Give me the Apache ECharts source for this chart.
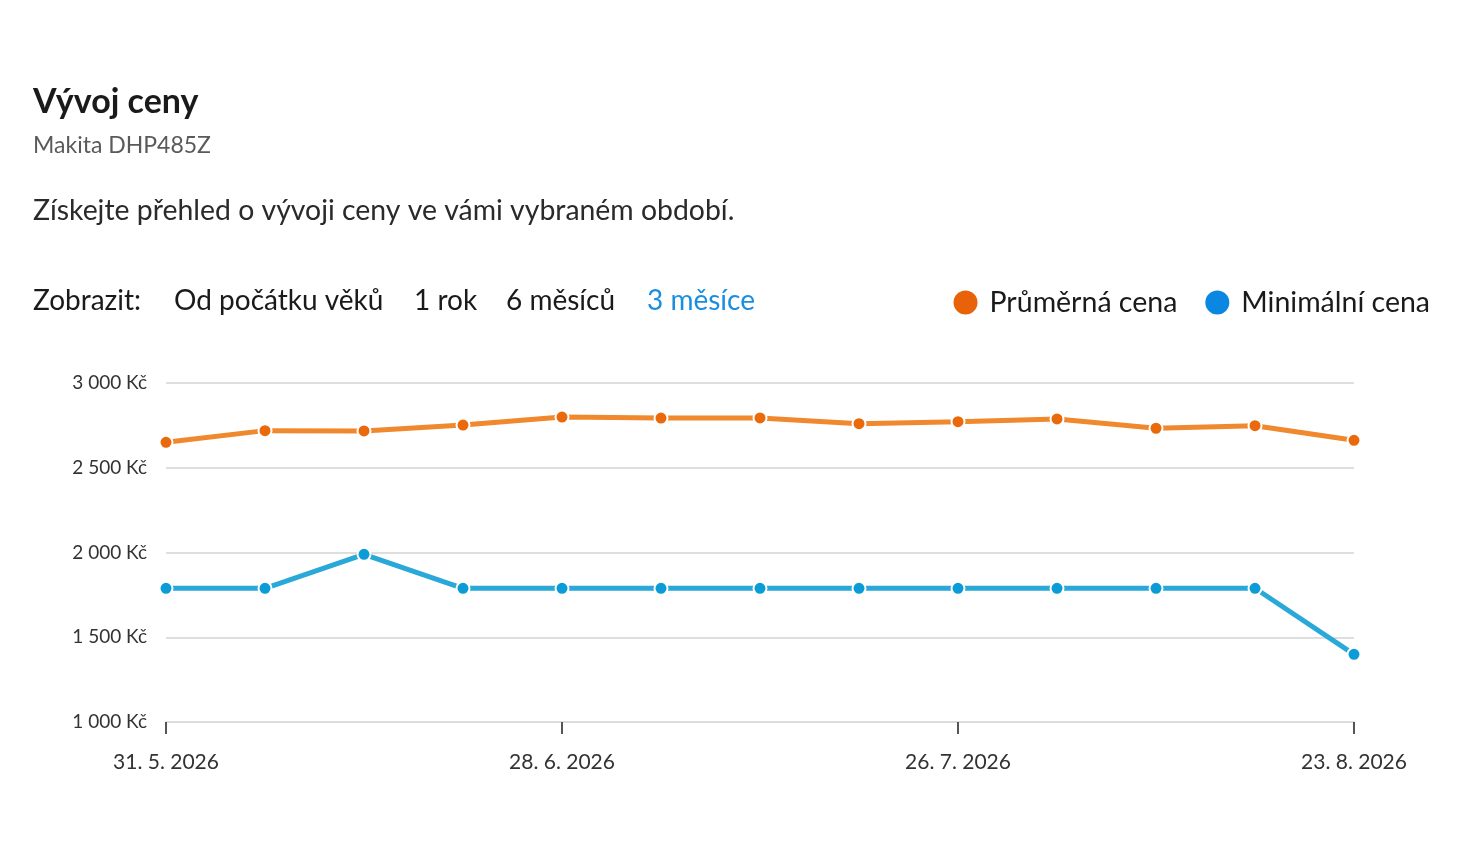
<!DOCTYPE html>
<html lang="cs">
<head>
<meta charset="utf-8">
<title>Vývoj ceny</title>
<script src="https://cdn.jsdelivr.net/npm/echarts@6.0.0/dist/echarts.min.js"></script>
<style>
  html, body { margin: 0; padding: 0; background: #fff; }
  #chart { width: 1462px; height: 866px; }
</style>
</head>
<body>
<div id="chart"></div>
<script>
(function () {
    'use strict';

    // weekly dates
    var dates = ['31. 5. 2026', '7. 6. 2026', '14. 6. 2026', '21. 6. 2026', '28. 6. 2026',
        '5. 7. 2026', '12. 7. 2026', '19. 7. 2026', '26. 7. 2026', '2. 8. 2026',
        '9. 8. 2026', '16. 8. 2026', '23. 8. 2026'];
    var avgPrice = [2650, 2719, 2717, 2752, 2799, 2793, 2794, 2760, 2772, 2788, 2733, 2748, 2662];
    var minPrice = [1789, 1789, 1989, 1789, 1789, 1789, 1789, 1789, 1789, 1789, 1789, 1789, 1399];
    var yTicks = [1000, 1500, 2000, 2500, 3000];
    var periods = ['Od počátku věků', '1 rok', '6 měsíců', '3 měsíce'];
    var periodX = [174, 414, 506, 647];

    var font = 'Lato, "Open Sans", sans-serif';

    function kc(v) {
        return String(v).replace(/\B(?=(\d{3})+(?!\d))/g, ' ') + ' Kč';
    }

    var graphics = [
        { type: 'text', left: 33, top: 85, style: { text: 'Vývoj ceny', font: 'bold 34px ' + font, fill: '#1a1a1a' } },
        { type: 'text', left: 33, top: 134, style: { text: 'Makita DHP485Z', font: '23px ' + font, fill: '#5a5a5a' } },
        { type: 'text', left: 33, top: 197, style: { text: 'Získejte přehled o vývoji ceny ve vámi vybraném období.', font: '28.4px ' + font, fill: '#2a2a2a' } },
        { type: 'text', left: 33, top: 287, style: { text: 'Zobrazit:', font: '28px ' + font, fill: '#1a1a1a' } }
    ];
    periods.forEach(function (p, i) {
        graphics.push({
            type: 'text', left: periodX[i], top: 287,
            style: { text: p, font: '28px ' + font, fill: i === periods.length - 1 ? '#1a8ee0' : '#1a1a1a' }
        });
    });

    var chart = echarts.init(document.getElementById('chart'));
    chart.setOption({
        backgroundColor: '#fff',
        textStyle: { fontFamily: font },
        graphic: graphics,
        legend: {
            right: 27,
            top: 283,
            icon: 'circle',
            itemWidth: 24,
            itemHeight: 24,
            itemGap: 28,
            textStyle: { fontSize: 28.5, color: '#1a1a1a', fontFamily: font, padding: [0, 0, 0, 7] },
            data: [
                { name: 'Průměrná cena', itemStyle: { color: '#e8620a', borderWidth: 0 } },
                { name: 'Minimální cena', itemStyle: { color: '#0a87e0', borderWidth: 0 } }
            ]
        },
        grid: { left: 166, right: 108, top: 383, bottom: 144 },
        xAxis: {
            type: 'category',
            data: dates,
            boundaryGap: false,
            axisLine: { show: true, lineStyle: { color: '#dcdcdc', width: 2 } },
            axisTick: { show: true, interval: 3, length: 12, lineStyle: { color: '#555', width: 2 } },
            axisLabel: { interval: 3, fontSize: 21, color: '#333', margin: 30, fontFamily: font },
            splitLine: { show: false }
        },
        yAxis: {
            type: 'value',
            min: yTicks[0],
            max: yTicks[yTicks.length - 1],
            interval: 500,
            axisLine: { show: false },
            axisTick: { show: false },
            axisLabel: { fontSize: 19, color: '#333', margin: 19, formatter: kc, fontFamily: font },
            splitLine: { lineStyle: { color: '#dedede', width: 2 } }
        },
        series: [
            {
                name: 'Průměrná cena',
                type: 'line',
                data: avgPrice,
                symbol: 'circle',
                symbolSize: 13,
                lineStyle: { color: '#f0892d', width: 5 },
                itemStyle: { color: '#ea690a', borderColor: '#fff', borderWidth: 2 },
                z: 3
            },
            {
                name: 'Minimální cena',
                type: 'line',
                data: minPrice,
                symbol: 'circle',
                symbolSize: 13,
                lineStyle: { color: '#2aa9d9', width: 5 },
                itemStyle: { color: '#0b9bd6', borderColor: '#fff', borderWidth: 2 },
                z: 3
            }
        ],
        animation: false
    });
})();
</script>
</body>
</html>
